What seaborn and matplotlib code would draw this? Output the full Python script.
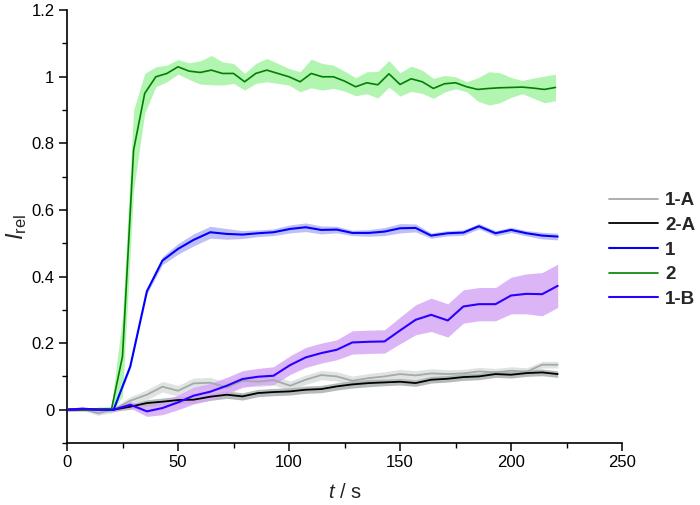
import numpy as np
import pandas as pd
import matplotlib
matplotlib.use("Agg")
import matplotlib.pyplot as plt
from matplotlib.ticker import MultipleLocator, FuncFormatter
from matplotlib.lines import Line2D
import seaborn as sns

# ---------------- data ----------------
t_fast = [0, 5, 10, 15, 20, 25, 30, 35, 40, 45, 50, 55, 60, 65, 70, 75, 80, 85, 90, 95,
          100, 105, 110, 115, 120, 125, 130, 135, 140, 145, 150, 155, 160, 165, 170, 175,
          180, 185, 190, 195, 200, 205, 210, 215, 220]
y_2 = [0, 0.002, 0.0, 0.003, 0.0, 0.16, 0.78, 0.95, 1.0, 1.01, 1.03, 1.017, 1.013, 1.02,
       1.01, 1.01, 0.985, 1.01, 1.02, 1.01, 1.0, 0.985, 1.01, 1.0, 1.0, 0.987, 0.97, 0.982,
       0.976, 1.009, 0.977, 0.994, 0.985, 0.965, 0.979, 0.982, 0.97, 0.962, 0.965, 0.967,
       0.968, 0.969, 0.966, 0.962, 0.968]
sd_2 = [0.005, 0.005, 0.005, 0.005, 0.01, 0.12, 0.12, 0.06, 0.03, 0.025, 0.022, 0.025,
        0.035, 0.044, 0.035, 0.03, 0.025, 0.03, 0.035, 0.03, 0.025, 0.03, 0.043, 0.04,
        0.035, 0.03, 0.027, 0.033, 0.04, 0.04, 0.035, 0.038, 0.035, 0.03, 0.025, 0.018,
        0.015, 0.035, 0.05, 0.045, 0.03, 0.02, 0.03, 0.04, 0.04]

t_slow = [0, 7, 14, 21, 28.5, 36, 43, 50, 57, 64.5, 72, 79, 86, 93, 100.5, 107.5, 114.5,
          121.5, 128.5, 136, 143, 150, 157, 164, 171.5, 178.5, 185.5, 193, 200, 207, 214, 221]
y_1 = [0, 0.002, 0.0, 0.0, 0.13, 0.356, 0.448, 0.483, 0.51, 0.533, 0.528, 0.526, 0.53,
       0.533, 0.543, 0.548, 0.54, 0.541, 0.531, 0.531, 0.535, 0.545, 0.546, 0.523, 0.53,
       0.532, 0.551, 0.53, 0.54, 0.53, 0.523, 0.52]
sd_1 = [0.004, 0.004, 0.004, 0.004, 0.006, 0.008, 0.012, 0.016, 0.018, 0.018, 0.016, 0.012,
        0.01, 0.01, 0.012, 0.013, 0.012, 0.01, 0.008, 0.01, 0.012, 0.014, 0.012, 0.008,
        0.008, 0.008, 0.008, 0.008, 0.008, 0.008, 0.01, 0.01]
y_1B = [0, 0.003, 0.0, 0.0, 0.015, -0.005, 0.005, 0.022, 0.042, 0.054, 0.072, 0.092, 0.099,
        0.102, 0.134, 0.157, 0.17, 0.18, 0.202, 0.204, 0.205, 0.238, 0.27, 0.285, 0.268,
        0.31, 0.317, 0.317, 0.343, 0.348, 0.347, 0.372]
sd_1B = [0.005, 0.005, 0.005, 0.005, 0.01, 0.015, 0.02, 0.022, 0.025, 0.025, 0.025, 0.025,
         0.025, 0.027, 0.028, 0.03, 0.03, 0.03, 0.035, 0.035, 0.035, 0.04, 0.045, 0.05,
         0.05, 0.05, 0.05, 0.05, 0.055, 0.06, 0.065, 0.065]
y_1A = [0, 0.003, -0.011, 0.0, 0.027, 0.045, 0.069, 0.057, 0.079, 0.081, 0.067, 0.087,
        0.084, 0.089, 0.072, 0.09, 0.104, 0.1, 0.087, 0.095, 0.1, 0.107, 0.103, 0.109,
        0.107, 0.109, 0.115, 0.112, 0.117, 0.114, 0.135, 0.135]
sd_1A = [0.005, 0.005, 0.006, 0.008, 0.012, 0.015, 0.016, 0.016, 0.016, 0.016, 0.015,
         0.015, 0.015, 0.015, 0.014, 0.014, 0.014, 0.014, 0.014, 0.014, 0.014, 0.014,
         0.014, 0.014, 0.013, 0.012, 0.012, 0.012, 0.012, 0.012, 0.01, 0.01]
y_2A = [0, 0.0, 0.002, 0.0, 0.009, 0.02, 0.024, 0.029, 0.03, 0.039, 0.045, 0.04, 0.05,
        0.053, 0.055, 0.06, 0.062, 0.07, 0.076, 0.08, 0.082, 0.084, 0.08, 0.09, 0.093,
        0.098, 0.1, 0.107, 0.105, 0.11, 0.112, 0.107]
sd_2A = [0.004, 0.004, 0.004, 0.005, 0.008, 0.01, 0.011, 0.011, 0.011, 0.011, 0.011,
         0.011, 0.011, 0.011, 0.011, 0.011, 0.011, 0.011, 0.011, 0.011, 0.01, 0.01, 0.01,
         0.01, 0.01, 0.01, 0.01, 0.01, 0.01, 0.01, 0.01, 0.01]

labels = ["1-A", "2-A", "1", "2", "1-B"]

# ---------------- style ----------------
sns.set_theme(style="white")
plt.rcParams["font.family"] = ["Liberation Sans", "DejaVu Sans"]
plt.rcParams["mathtext.fontset"] = "custom"
plt.rcParams["mathtext.it"] = "Liberation Sans:italic"
plt.rcParams["mathtext.rm"] = "Liberation Sans"

fig = plt.figure(figsize=(7.0, 5.05), dpi=100)
ax = fig.add_axes([0.0957, 0.1228, 0.793, 0.857])

series = [
    ("1-A", t_slow, y_1A, sd_1A, "#a2aaaa", "#dcdede", 1.3),
    ("2-A", t_slow, y_2A, sd_2A, "#000000", "#a8b0b0", 1.3),
    ("1",   t_slow, y_1,  sd_1,  "#0000ff", "#b4b4f4", 1.5),
    ("2",   t_fast, y_2,  sd_2,  "#008000", "#a4f4a4", 1.2),
    ("1-B", t_slow, y_1B, sd_1B, "#2a00ff", "#d6a8f6", 1.5),
]

# bands
for name, tt, yy, sd, lc, bc, lw in series:
    yy = np.asarray(yy); sd = np.asarray(sd)
    ax.fill_between(tt, yy - sd, yy + sd, color=bc, alpha=0.85, linewidth=0, zorder=1)

# lines
handles = []
for name, tt, yy, sd, lc, bc, lw in series:
    df = pd.DataFrame({"t": tt, "v": yy})
    sns.lineplot(data=df, x="t", y="v", ax=ax, color=lc, linewidth=lw, zorder=3,
                 errorbar=None)
    handles.append(Line2D([0], [0], color=lc, linewidth=lw))

ax.set_xlim(0, 250)
ax.set_ylim(-0.1, 1.2)
ax.xaxis.set_major_locator(MultipleLocator(50))
ax.xaxis.set_minor_locator(MultipleLocator(25))
ax.yaxis.set_major_locator(MultipleLocator(0.2))
ax.yaxis.set_minor_locator(MultipleLocator(0.1))
ax.yaxis.set_major_formatter(FuncFormatter(lambda v, p: f"{v:g}" if v > -0.05 else ""))

for s in ["top", "right"]:
    ax.spines[s].set_visible(False)
for s in ["left", "bottom"]:
    ax.spines[s].set_color("black")
    ax.spines[s].set_linewidth(1.2)

ax.tick_params(axis="both", which="major", direction="out", length=6, width=1.1,
               colors="black", labelsize=12, left=True, bottom=True, pad=3)
ax.tick_params(axis="both", which="minor", direction="out", length=3.5, width=1.0,
               colors="black", left=True, bottom=True)

ax.set_xlabel(r"$t$ / s", fontsize=14.5, labelpad=9)
ax.set_ylabel(r"$I_{\mathrm{rel}}$", fontsize=17, labelpad=2)

fig.legend(handles, labels, loc="center left", bbox_to_anchor=(0.870, 0.505),
           frameon=False, prop={"weight": "bold", "size": 13.5}, handlelength=2.6,
           handletextpad=0.4, labelspacing=0.4, borderpad=0, borderaxespad=0)

fig.savefig("out.png", dpi=100)
